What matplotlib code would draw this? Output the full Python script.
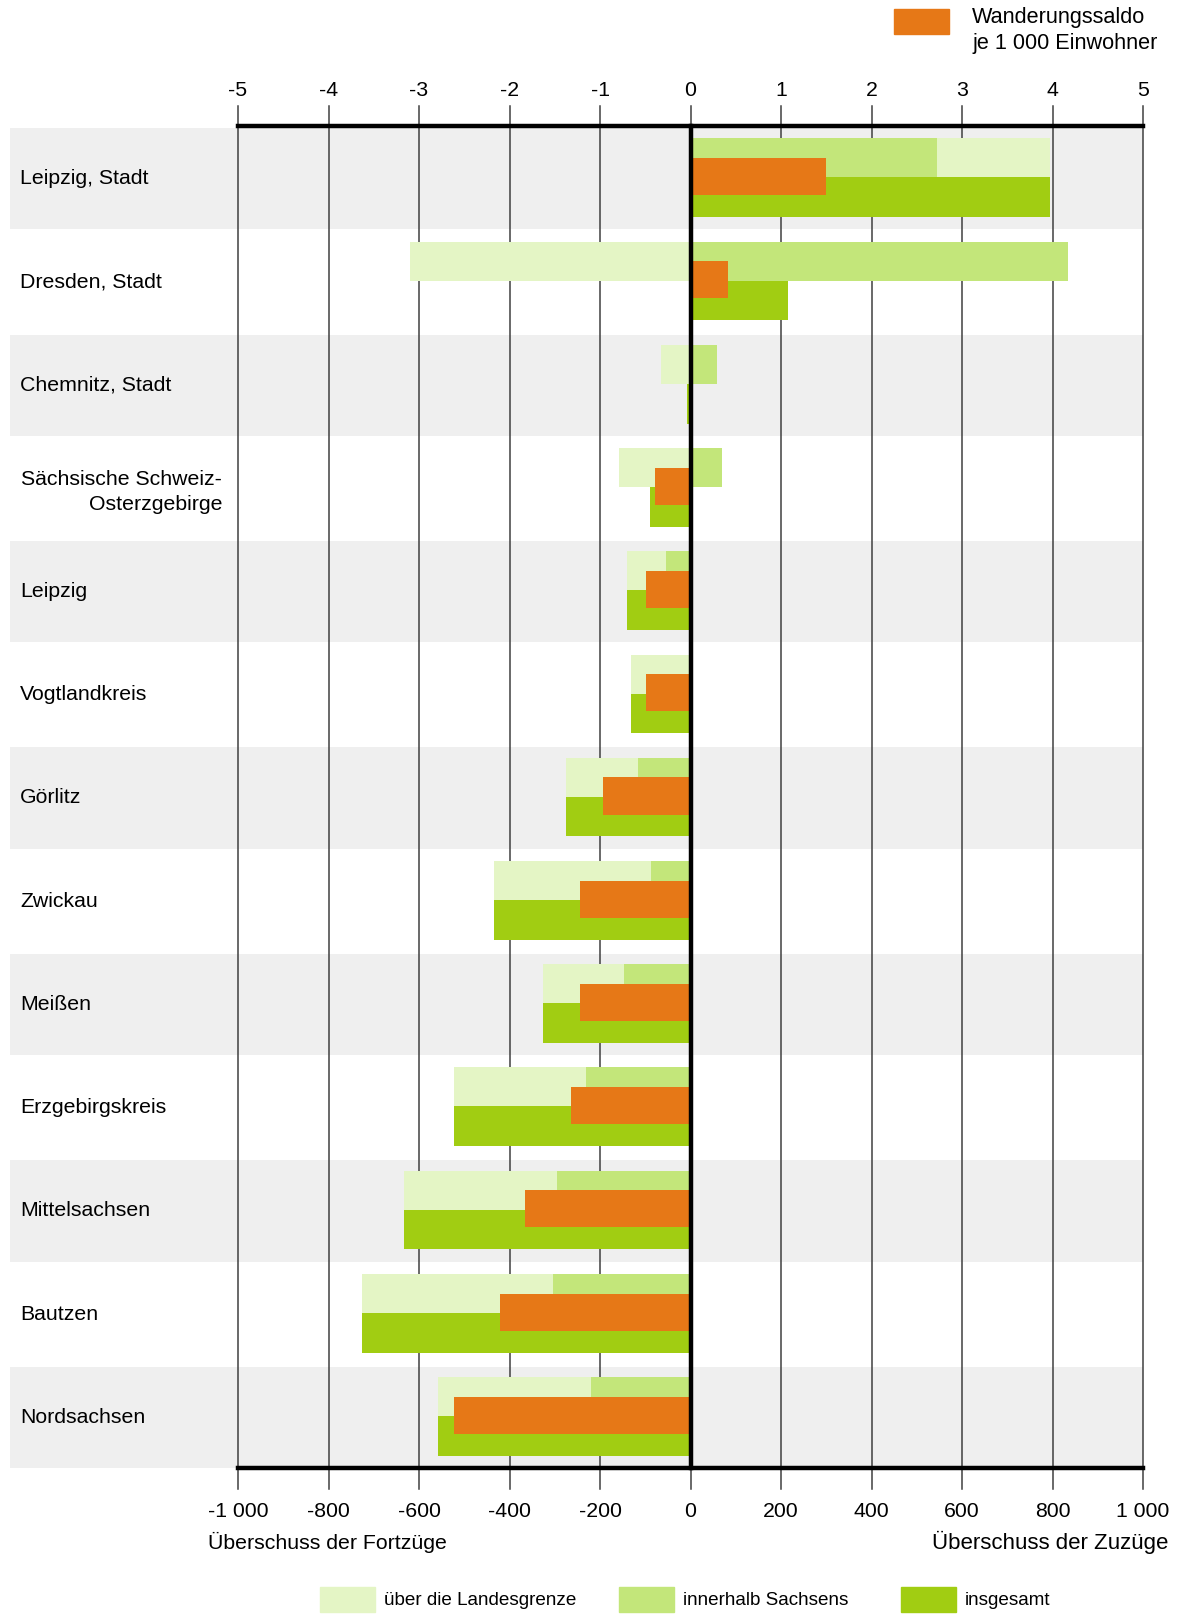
import numpy as np
import matplotlib
matplotlib.use("Agg")
import matplotlib.pyplot as plt
from matplotlib.patches import Rectangle

plt.rcParams['font.family'] = ['Liberation Sans', 'DejaVu Sans']
plt.rcParams['font.size'] = 15.3

# Wanderungssaldo der Kreise (Personen) und je 1 000 Einwohner
kreise = ["Leipzig, Stadt", "Dresden, Stadt", "Chemnitz, Stadt",
          "Sächsische Schweiz-\nOsterzgebirge", "Leipzig", "Vogtlandkreis",
          "Görlitz", "Zwickau", "Meißen", "Erzgebirgskreis", "Mittelsachsen",
          "Bautzen", "Nordsachsen"]
innerhalb = [545, 835, 58, 70, -55, 0, -115, -88, -146, -232, -296, -303, -220]
ueber_grenze = [250, -619, -65, -159, -86, -132, -160, -346, -181, -291, -337, -422, -338]
insgesamt = [795, 216, -7, -89, -141, -132, -275, -434, -327, -523, -633, -725, -558]
saldo_je_1000 = [1.50, 0.41, 0.0, -0.39, -0.49, -0.49, -0.97, -1.22, -1.22, -1.32, -1.83, -2.11, -2.61]

ticks_unten = [-1000, -800, -600, -400, -200, 0, 200, 400, 600, 800, 1000]
labels_unten = ["-1 000", "-800", "-600", "-400", "-200", "0", "200", "400", "600", "800", "1 000"]
ticks_oben = [-5, -4, -3, -2, -1, 0, 1, 2, 3, 4, 5]

c_ueber = '#e4f5c5'
c_inner = '#c3e67a'
c_ges = '#a1cd12'
c_saldo = '#e67817'
c_grau = '#efefef'

W, H = 1182, 1615
fig = plt.figure(figsize=(W / 100, H / 100), dpi=100)
ax = fig.add_axes([238 / W, 1 - 1469 / H, 905 / W, 1342 / H])
n = len(kreise)
y = np.arange(n)
ax.set_xlim(-1000, 1000)
ax.set_ylim(n - 0.5, -0.5)
for s in ax.spines.values():
    s.set_visible(False)

# graue Zeilen, reichen bis unter die Beschriftung
tr_y = ax.get_yaxis_transform()
x0 = (10 - 238) / 905
for i in range(0, n, 2):
    ax.add_patch(Rectangle((x0, i - 0.48), 1 - x0, 0.98, transform=tr_y,
                           color=c_grau, lw=0, zorder=0, clip_on=False))

# Gitterlinien
tr_x = ax.get_xaxis_transform()
for v in ticks_unten:
    ax.plot([v, v], [-0.016, 1.015], transform=tr_x, color='#404040', lw=1.1,
            zorder=1, clip_on=False)

inner = np.array(innerhalb)
ueber = np.array(ueber_grenze)
links = np.where(np.sign(inner) == np.sign(ueber), inner, 0)

ax.barh(y - 0.19, ueber, left=links, height=0.38, color=c_ueber, zorder=2)
ax.barh(y - 0.19, inner, height=0.38, color=c_inner, zorder=2)
ax.barh(y + 0.19, insgesamt, height=0.385, color=c_ges, zorder=2)
ax.barh(y - 0.01, np.array(saldo_je_1000) * 200, height=0.36, color=c_saldo, zorder=3)

ax.plot([0, 0], [0, 1], transform=tr_x, color='black', lw=3.2, zorder=5, clip_on=False)
ax.plot([0, 1], [1, 1], transform=ax.transAxes, color='black', lw=3.2, zorder=5, clip_on=False)
ax.plot([0, 1], [0, 0], transform=ax.transAxes, color='black', lw=3.2, zorder=5, clip_on=False)

# Kreisnamen
for i, k in enumerate(kreise):
    if "\n" in k:
        ax.text((222 - 238) / 905, i + 0.04, k, transform=tr_y, ha='right', va='center',
                multialignment='right', linespacing=1.4)
    else:
        ax.text((20 - 238) / 905, i, k, transform=tr_y, ha='left', va='center')

ax.set_yticks([])
ax.set_xticks(ticks_unten)
ax.set_xticklabels(labels_unten)
ax.tick_params(axis='x', length=0, pad=24)

top = ax.secondary_xaxis('top', functions=(lambda v: v / 200, lambda v: v * 200))
top.set_xticks(ticks_oben)
top.set_xticklabels([str(t) for t in ticks_oben])
top.tick_params(length=0, pad=19.5)
for s in top.spines.values():
    s.set_visible(False)

fig.text(208 / W, 1 - 1542 / H, "Überschuss der Fortzüge", ha='left', va='center')
fig.text(1168 / W, 1 - 1542 / H, "Überschuss der Zuzüge", ha='right', va='center',
         fontsize=16)

# Legende oben
fig.patches.append(Rectangle((894 / W, 1 - 35 / H), 55 / W, 25 / H, color=c_saldo,
                             transform=fig.transFigure))
fig.text(972 / W, 1 - 18 / H, "Wanderungssaldo", ha='left', va='center', fontsize=15.6)
fig.text(972 / W, 1 - 43 / H, "je 1 000 Einwohner", ha='left', va='center', fontsize=15.6)

# Legende unten
leg = [(320, c_ueber, "über die Landesgrenze"),
       (619, c_inner, "innerhalb Sachsens"),
       (901, c_ges, "insgesamt")]
for xl, col, txt in leg:
    fig.patches.append(Rectangle((xl / W, 1 - 1613 / H), 55 / W, 25 / H, color=col,
                                 transform=fig.transFigure))
    fig.text((xl + 64) / W, 1 - 1601 / H, txt, ha='left', va='center', fontsize=13.6)

fig.savefig("out.png", dpi=100)
